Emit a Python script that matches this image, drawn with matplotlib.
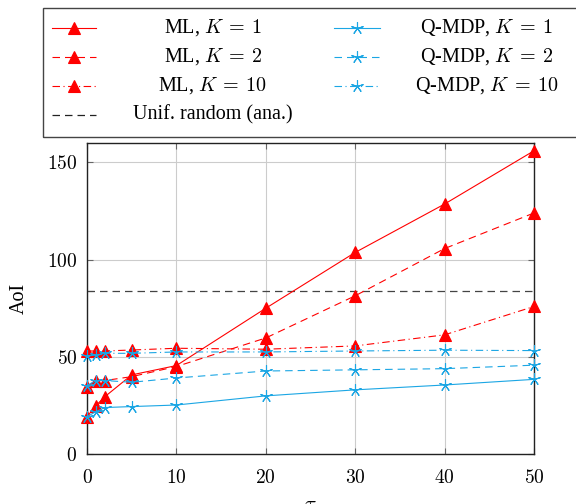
import matplotlib.pyplot as plt
from matplotlib.lines import Line2D
from matplotlib.patches import Rectangle

plt.rcParams['font.family'] = ['Liberation Serif', 'DejaVu Serif']
plt.rcParams['mathtext.fontset'] = 'cm'
plt.rcParams['lines.scale_dashes'] = False

tau = [0, 1, 2, 5, 10, 20, 30, 40, 50]

ml_k1 = [19.2, 24.9, 29.5, 40.7, 45.5, 75.0, 103.7, 128.6, 156.0]
ml_k2 = [34.7, 37.8, 37.8, 39.8, 45.0, 59.7, 81.4, 105.7, 124.0]
ml_k10 = [53.0, 53.0, 53.0, 53.5, 54.4, 53.9, 55.6, 61.3, 75.9]

qmdp_k1 = [19.2, 21.8, 23.9, 24.4, 25.2, 29.9, 33.0, 35.5, 38.4]
qmdp_k2 = [35.2, 37.8, 37.8, 36.9, 39.1, 42.7, 43.3, 43.9, 45.7]
qmdp_k10 = [50.5, 51.0, 51.8, 51.8, 52.5, 52.5, 53.0, 53.4, 53.2]

unif_random = 84.0

x_ticks = [0, 10, 20, 30, 40, 50]
y_ticks = [0, 50, 100, 150]

red = '#ff0000'
blue = '#1ba6e4'
solid = '-'
dashed = (0, (5.4, 3.6))
dashdot = (0, (5.4, 2.5, 0.8, 2.5))

series = [
    (ml_k1, red, solid, '^', r'ML, $K\:=\:1$'),
    (ml_k2, red, dashed, '^', r'ML, $K\:=\:2$'),
    (ml_k10, red, dashdot, '^', r'ML, $K\:=\:10$'),
    (qmdp_k1, blue, solid, (5, 2), r'Q-MDP, $K\:=\:1$'),
    (qmdp_k2, blue, dashed, (5, 2), r'Q-MDP, $K\:=\:2$'),
    (qmdp_k10, blue, dashdot, (5, 2), r'Q-MDP, $K\:=\:10$'),
]

W, H = 576, 504
fig = plt.figure(figsize=(W / 100, H / 100), dpi=100)
ax = fig.add_axes([87 / W, 1 - 454 / H, (534 - 87) / W, (454 - 143) / H])

def marker_size(m):
    return 8.5 if m == '^' else 9

for vals, col, ls, mk, lab in series:
    ax.plot(tau, vals, color=col, linestyle=ls, lw=0.8, marker=mk,
            ms=marker_size(mk), mec=col, mfc=col, mew=0.8, clip_on=False, zorder=3)

ax.axhline(unif_random, color='#444444', linestyle=dashed, lw=0.9, zorder=2)

ax.set_xlim(0, 50)
ax.set_ylim(0, 160)
ax.set_xticks(x_ticks)
ax.set_xticklabels(['$%d$' % t for t in x_ticks])
ax.set_yticks(y_ticks)
ax.set_yticklabels(['$%d$' % t for t in y_ticks])
ax.set_yticks([unif_random], minor=True)
ax.tick_params(which='major', direction='in', length=4, width=0.8, color='#666666',
               top=True, right=True, labelsize=14, pad=7)
ax.tick_params(axis='x', which='major', pad=11)
ax.tick_params(which='minor', direction='in', length=4, width=0.8, color='#666666',
               left=True, right=False)
ax.grid(True, which='major', color='#cccccc', lw=0.8)
ax.set_axisbelow(True)
for s in ax.spines.values():
    s.set_linewidth(1.0)
    s.set_color('#222222')

ax.set_ylabel('AoI', fontsize=14.5, labelpad=13)
ax.set_xlabel(r'$\tau$', fontsize=15, labelpad=6)

# legend box drawn by hand (pixel positions of the reference)
def fx(px):
    return px / W

def fy(py):
    return 1 - py / H

fig.patches.append(Rectangle((fx(43), fy(137)), fx(600) - fx(43), fy(8) - fy(137),
                             transform=fig.transFigure, fill=False,
                             edgecolor='#444444', lw=1.0))

rows = [28, 57, 86, 115]
cols = [(52, 96, 213), (334, 380, 487)]
for i, (vals, col, ls, mk, lab) in enumerate(series):
    x0, x1, xt = cols[i // 3]
    y = fy(rows[i % 3])
    fig.add_artist(Line2D([fx(x0), fx(x1)], [y, y], color=col, linestyle=ls, lw=0.8,
                          transform=fig.transFigure))
    fig.add_artist(Line2D([fx((x0 + x1) / 2)], [y], color=col, marker=mk,
                          ms=marker_size(mk), mec=col, mfc=col, mew=0.8,
                          transform=fig.transFigure))
    fig.text(fx(xt), y, lab, ha='center', va='center', fontsize=14.5)

y = fy(rows[3])
fig.add_artist(Line2D([fx(52), fx(96)], [y, y], color='#222222', linestyle=dashed,
                      lw=0.9, transform=fig.transFigure))
fig.text(fx(213), y, 'Unif. random (ana.)', ha='center', va='center', fontsize=14.5)

fig.savefig('out.png', dpi=100)
